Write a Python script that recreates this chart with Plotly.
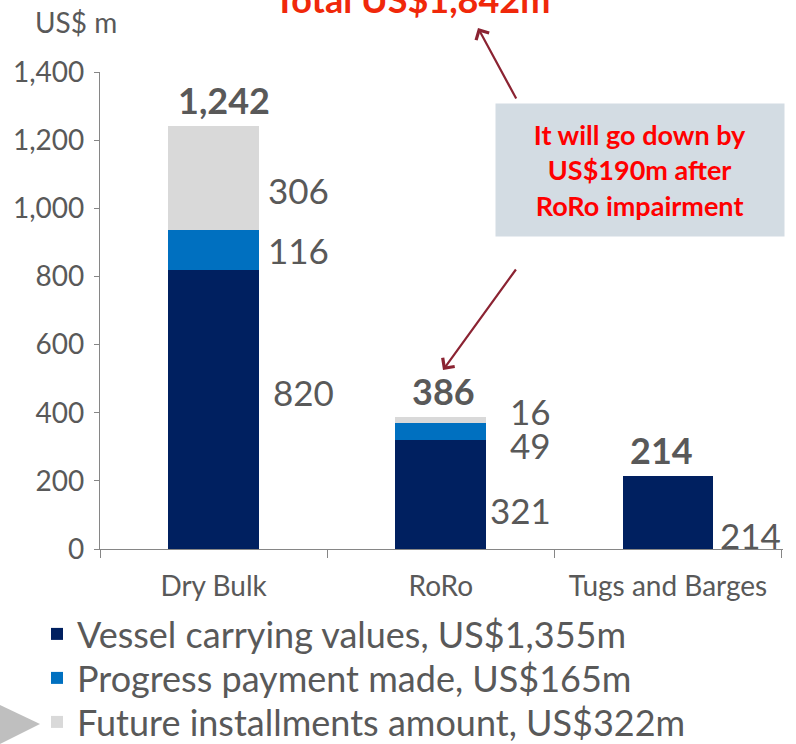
import plotly.graph_objects as go

categories = ["Dry Bulk", "RoRo", "Tugs and Barges"]
vessel_values = [820, 321, 214]
progress_values = [116, 49, 0]
future_values = [306, 16, 0]
totals = [1242, 386, 214]
series_names = [
    "Vessel carrying values, US$1,355m",
    "Progress payment made, US$165m",
    "Future installments amount, US$322m",
]
y_ticks = [0, 200, 400, 600, 800, 1000, 1200, 1400]
title_text = "Total US$1,842m"
note_text = "It will go down by<br>US$190m after<br>RoRo impairment"

FONT = "Lato"
GREY = "#595959"
colors = ["#002060", "#0070C0", "#D9D9D9"]
legend_ids = ["legend", "legend2", "legend3"]
legend_rows_px = [634, 678, 722]

fig = go.Figure()
for vals, name, col, lid in zip([vessel_values, progress_values, future_values], series_names, colors, legend_ids):
    fig.add_trace(go.Bar(x=categories, y=vals, name=name, legend=lid,
                         marker=dict(color=col, line=dict(width=0)), width=0.4))

# segment labels (pixel offsets are styling only)
label_style = {
    # (category index, series index): (xanchor, xshift, yshift)
    (0, 2): ("left", 52, -12),
    (0, 1): ("left", 52, 0),
    (0, 0): ("left", 57, 17),
    (1, 2): ("right", 112, 9),
    (1, 1): ("right", 112, -14),
    (1, 0): ("right", 112, -16),
    (2, 0): ("left", 50, -22),
}
series = [vessel_values, progress_values, future_values]
for ci, cat in enumerate(categories):
    base = 0
    for si, vals in enumerate(series):
        v = vals[ci]
        if v > 0 and (ci, si) in label_style:
            xa, xs, ys = label_style[(ci, si)]
            fig.add_annotation(x=cat, y=base + v / 2, text=f"{v:,}", showarrow=False,
                               xanchor=xa, yanchor="middle", xshift=xs, yshift=ys,
                               font=dict(family=FONT, size=35, color=GREY))
        base += v

total_xshift = [10, 3, -7]
for ci, cat in enumerate(categories):
    fig.add_annotation(x=cat, y=totals[ci], text=f"<b>{totals[ci]:,}</b>", showarrow=False,
                       xanchor="center", yanchor="bottom", xshift=total_xshift[ci], yshift=2,
                       font=dict(family=FONT, size=36, color=GREY))

# axis unit label
fig.add_annotation(xref="paper", yref="paper", x=-0.035, y=1.105, text="US$ m", showarrow=False,
                   xanchor="center", yanchor="middle", font=dict(family=FONT, size=28, color=GREY))

# title (cut off at top)
fig.add_annotation(xref="paper", yref="paper", x=0.457, y=1.152, text=f"<b>{title_text}</b>", showarrow=False,
                   xanchor="center", yanchor="middle", font=dict(family=FONT, size=36, color="#F0280A"))

# note box
fig.add_annotation(xref="paper", yref="paper", x=0.791, y=0.7946, text=f"<b>{note_text}</b>", showarrow=False,
                   xanchor="center", yanchor="middle", width=286, height=130, bgcolor="#D3DCE3",
                   align="center", font=dict(family=FONT, size=27, color="#FF0000"))

# arrows
fig.add_annotation(xref="paper", yref="paper", x=(478 - 100) / 683, y=(549 - 28) / 477, text="",
                   showarrow=True, ax=39, ay=72, arrowhead=4, arrowsize=1.3, arrowwidth=2.2,
                   arrowcolor="#8B2332")
fig.add_annotation(xref="paper", yref="paper", x=(443 - 100) / 683, y=(549 - 370) / 477, text="",
                   showarrow=True, ax=74, ay=-102, arrowhead=4, arrowsize=1.3, arrowwidth=2.2,
                   arrowcolor="#8B2332")

# decorative triangle bottom-left
fig.add_shape(type="path", xref="paper", yref="paper",
              path=f"M {(0-100)/683} {(549-705)/477} L {(40-100)/683} {(549-724)/477} L {(0-100)/683} {(549-744)/477} Z",
              fillcolor="#BFBFBF", line=dict(width=0))

legend_common = dict(xref="container", yref="container", x=37 / 796, xanchor="left", yanchor="middle",
                     font=dict(family=FONT, size=36, color=GREY), bgcolor="rgba(0,0,0,0)",
                     itemsizing="constant")

fig.update_layout(
    width=796, height=744,
    margin=dict(l=100, r=13, t=72, b=195, autoexpand=False),
    barmode="stack",
    plot_bgcolor="white", paper_bgcolor="white",
    font=dict(family=FONT, color=GREY),
    showlegend=True,
    legend=dict(y=1 - legend_rows_px[0] / 744, **legend_common),
    legend2=dict(y=1 - legend_rows_px[1] / 744, **legend_common),
    legend3=dict(y=1 - legend_rows_px[2] / 744, **legend_common),
    xaxis=dict(showline=True, linecolor="#868686", linewidth=1.3, ticks="outside", tickson="boundaries",
               ticklen=8, tickcolor="#868686", tickfont=dict(family=FONT, size=28, color=GREY),
               ticklabelstandoff=12, showgrid=False),
    yaxis=dict(range=[0, 1400], tickvals=y_ticks, tickformat=",", showline=True, linecolor="#868686",
               linewidth=1.3, ticks="outside", ticklen=5, tickcolor="#868686",
               tickfont=dict(family=FONT, size=28, color=GREY), showgrid=False, zeroline=False,
               ticklabelstandoff=4),
)

fig.write_html("out.html", config={"displayModeBar": False},
               post_script="document.body.style.margin='0px';document.body.style.overflow='hidden';")
